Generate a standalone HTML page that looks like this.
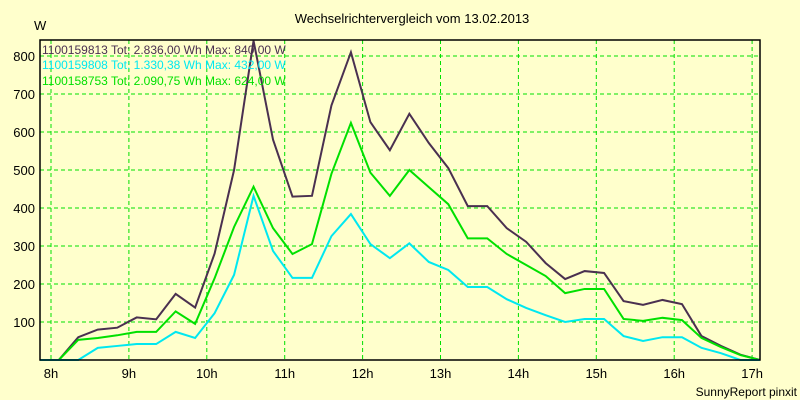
<!DOCTYPE html>
<html><head><meta charset="utf-8"><style>
body{margin:0;background:#ffffcc;}
svg{display:block;font-family:"Liberation Sans",sans-serif;}
</style></head><body>
<svg id="chart" width="800" height="400" viewBox="0 0 800 400">
<rect x="0" y="0" width="800" height="400" fill="#ffffcc"/>
<text x="412" y="23" font-size="13" text-anchor="middle" fill="#000">Wechselrichtervergleich vom 13.02.2013</text>
<text x="34" y="30" font-size="13" fill="#000">W</text>
<g id="grid"></g>
<g id="series"></g>
<rect x="40" y="40" width="720" height="320" fill="none" stroke="#000" stroke-width="1.5"/>
<g id="axes"></g>
<g font-size="12">
<text x="42" y="54" fill="#4a3050">1100159813 Tot: 2.836,00 Wh Max: 840,00 W</text>
<text x="42" y="69" fill="#00e8f0">1100159808 Tot: 1.330,38 Wh Max: 432,00 W</text>
<text x="42" y="85" fill="#00e000">1100158753 Tot: 2.090,75 Wh Max: 624,00 W</text>
</g>
<text x="797" y="396" font-size="12" text-anchor="end" fill="#000">SunnyReport pinxit</text>
</svg>
<script>
const times=[7.86,8.1,8.35,8.6,8.85,9.1,9.35,9.6,9.85,10.1,10.35,10.6,10.85,11.1,11.35,11.6,11.85,12.1,12.35,12.6,12.85,13.1,13.35,13.6,13.85,14.1,14.35,14.6,14.85,15.1,15.35,15.6,15.85,16.1,16.35,16.6,16.85,17.1];
const seriesA=[0,0,60,80,85,112,107,174,138,280,500,840,580,430,432,670,810,626,552,648,571,505,405,405,347,311,255,213,234,229,155,145,158,147,63,37,14,0];
const seriesB=[0,0,0,32,37,42,42,74,58,123,224,432,287,216,216,326,384,305,268,307,258,237,192,192,160,137,118,100,108,108,63,50,60,60,32,18,0,0];
const seriesC=[0,0,53,58,65,74,74,128,95,215,350,456,347,279,305,490,624,493,432,500,455,410,320,320,279,250,221,176,187,187,108,103,111,105,58,34,13,0];
const yTicks=[100,200,300,400,500,600,700,800];
const xTicks=[8,9,10,11,12,13,14,15,16,17];
const NS="http://www.w3.org/2000/svg";
function X(t){return Math.max(40,Math.min(760,51+(t-8)*77.9));}
function Y(v){return 360-v*0.38;}
const grid=document.getElementById('grid'),axes=document.getElementById('axes'),ser=document.getElementById('series');
yTicks.forEach(v=>{
 const l=document.createElementNS(NS,'line');
 
 
 l.setAttribute('x1',40);l.setAttribute('x2',760);l.setAttribute('y1',Y(v));l.setAttribute('y2',Y(v));
 l.setAttribute('stroke','#00e000');l.setAttribute('stroke-dasharray','4,3');grid.appendChild(l);
 const t=document.createElementNS(NS,'text');
 
 
 t.setAttribute('x',35);t.setAttribute('y',Y(v)+5);t.setAttribute('font-size','13');t.setAttribute('text-anchor','end');
 t.textContent=v;axes.appendChild(t);
});
xTicks.forEach(h=>{
 const l=document.createElementNS(NS,'line');
 
 
 l.setAttribute('x1',X(h));l.setAttribute('x2',X(h));l.setAttribute('y1',40);l.setAttribute('y2',360);
 l.setAttribute('stroke','#00e000');l.setAttribute('stroke-dasharray','4,3');grid.appendChild(l);
 const t=document.createElementNS(NS,'text');
 
 
 t.setAttribute('x',X(h));t.setAttribute('y',378);t.setAttribute('font-size','13');t.setAttribute('text-anchor','middle');
 t.textContent=h+'h';axes.appendChild(t);
});
[[seriesA,'#4a3050','line-1100159813'],[seriesC,'#00e000','line-1100158753'],[seriesB,'#00e8f0','line-1100159808']].forEach(s=>{
 const p=document.createElementNS(NS,'polyline');
 
 
 p.setAttribute('points',s[0].map((v,i)=>X(times[i])+','+Y(v)).join(' '));
 p.setAttribute('fill','none');p.setAttribute('stroke',s[1]);p.setAttribute('stroke-width','2');
 ser.appendChild(p);
});
</script>
</body></html>
